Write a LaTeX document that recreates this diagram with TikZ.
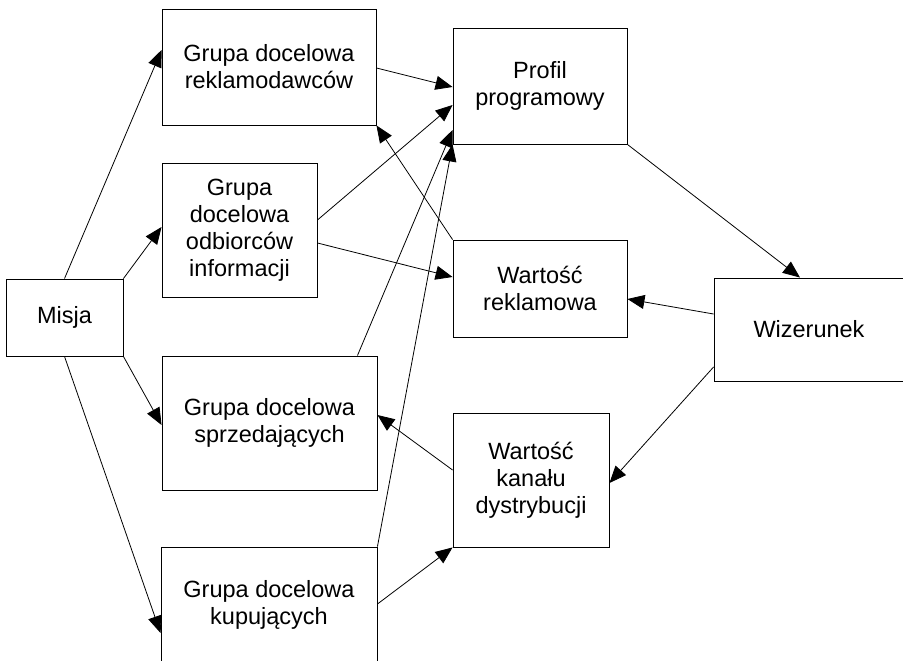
\documentclass[tikz,border=0pt]{standalone}
\usepackage{fontspec}
\setmainfont{Liberation Sans}
\usetikzlibrary{arrows.meta}

\begin{document}
\begin{tikzpicture}[x=1pt, y=-1pt,
  box/.style={draw, line width=0.9pt, align=center, inner sep=0pt,
    font=\fontsize{23.5}{27}\selectfont},
  arr/.style={line width=0.8pt, -{Triangle[length=17pt,width=14pt]}}]
\useasboundingbox (0,0) rectangle (903,661);
% left column
\node[box, minimum width=117pt, minimum height=77pt] (misja) at (64.5,317.5) {Misja};
\node[box, minimum width=214pt, minimum height=116pt] (rekl) at (269,67) {Grupa docelowa\\reklamodawców};
\node[box, minimum width=155pt, minimum height=134pt] (odb) at (239.5,230) {Grupa\\docelowa\\odbiorców\\informacji};
\node[box, minimum width=215pt, minimum height=134pt] (sprz) at (269.5,423) {Grupa docelowa\\sprzedających};
\node[box, minimum width=216pt, minimum height=116pt] (kup) at (269,605) {Grupa docelowa\\kupujących};
% middle column
\node[box, minimum width=174pt, minimum height=116pt] (profil) at (540,86) {Profil\\programowy};
\node[box, minimum width=174pt, minimum height=97pt] (wrekl) at (540,288.5) {Wartość\\reklamowa};
\node[box, minimum width=156pt, minimum height=134pt] (wkan) at (531,480) {Wartość\\kanału\\dystrybucji};
% right
\node[box, minimum width=190pt, minimum height=103pt] (wiz) at (809,329.5) {Wizerunek};
% misja to target groups
\draw[arr] (misja.north) -- ([yshift=17pt]rekl.west);
\draw[arr] (misja.north east) -- ([yshift=3pt]odb.west);
\draw[arr] (misja.south east) -- ([yshift=-2pt]sprz.west);
\draw[arr] (misja.south) -- ([yshift=-28pt]kup.west);
% groups to profile and values
\draw[arr] ([yshift=-1pt]rekl.east) -- ([yshift=-1pt]profil.west);
\draw[arr] ([yshift=10pt]odb.east) -- ([yshift=-19pt]profil.west);
\draw[arr] ([yshift=-13pt]odb.east) -- ([yshift=11.5pt]wrekl.west);
\draw[arr] (wrekl.north west) -- (rekl.south east);
\draw[arr] ([xshift=-20pt]sprz.north east) -- ([yshift=-44pt]profil.west);
\draw[arr] (kup.north east) -- (profil.south west);
\draw[arr] ([yshift=10pt]wkan.west) -- ([yshift=8pt]sprz.east);
\draw[arr] ([yshift=1pt]kup.east) -- (wkan.south west);
% image
\draw[arr] (profil.south east) -- ([xshift=-9pt]wiz.north);
\draw[arr] ([yshift=15.5pt]wiz.west) -- ([yshift=-10.5pt]wrekl.east);
\draw[arr] ([yshift=-37.5pt]wiz.west) -- ([yshift=-3pt]wkan.east);
\end{tikzpicture}
\end{document}
